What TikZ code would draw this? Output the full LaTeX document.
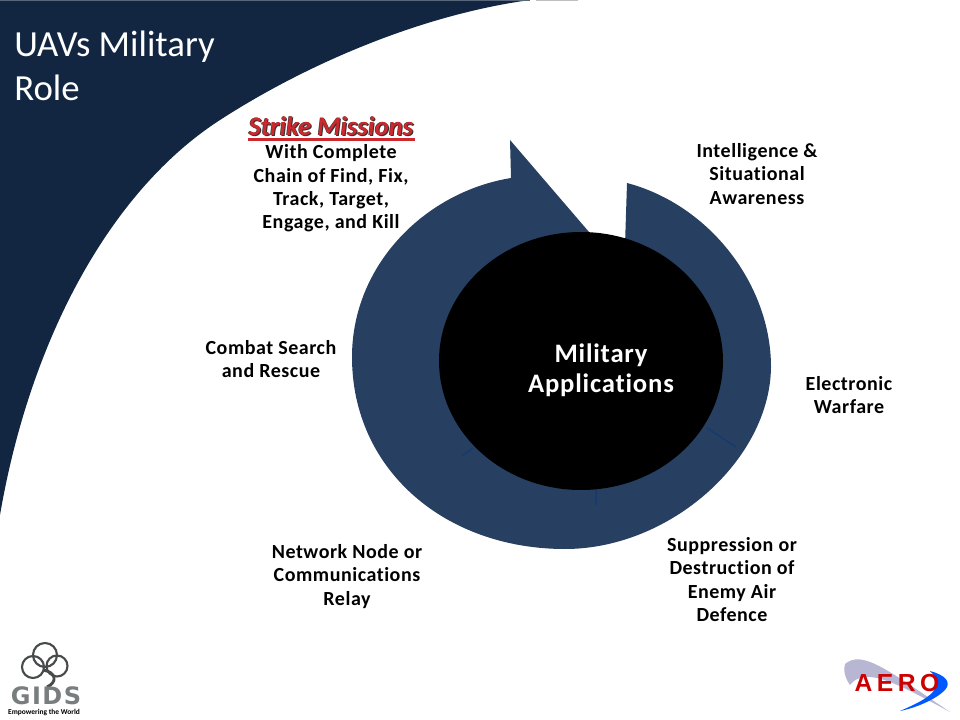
\documentclass[tikz,border=0pt]{standalone}
\usepackage{fontspec}
\setmainfont[Ligatures=NoCommon]{Carlito}
\newfontfamily\gidsfont{DejaVu Sans}
\newfontfamily\aerofont{Liberation Sans}
\usetikzlibrary{shapes.geometric, positioning, calc}
\definecolor{slidenavy}{RGB}{18,38,66}
\definecolor{ringblue}{RGB}{39,64,97}
\definecolor{ringline}{RGB}{24,58,110}
\definecolor{strikered}{RGB}{205,40,45}
\definecolor{logogray}{RGB}{120,125,125}
\tikzset{
  rolelabel/.style={align=center, font=\bfseries\fontsize{15}{17.5}\selectfont\addfontfeature{LetterSpace=2.7}, text=black, inner sep=0pt},
  ringsep/.style={draw=ringline, line width=1.3pt},
  strikefont/.style={inner sep=0pt, font=\bfseries\itshape\fontsize{20}{24}\selectfont},
}
\begin{document}
\begin{tikzpicture}[x=0.75pt,y=-0.75pt]
\useasboundingbox (0,0) rectangle (960,720);
% slide background
\fill[slidenavy] (0,0) -- (530,0) .. controls (420,15) and (305,65) .. (220,120)
  .. controls (110,191) and (30,340) .. (0,515) -- cycle;
\fill[slidenavy!70!white] (0,0) rectangle (530,1.5);
\fill[gray!50] (536,0) rectangle (578,1.5);
\node[text=white, align=left, anchor=north west, inner sep=0pt, font=\fontsize{27.6}{33}\selectfont] (title) at (14,31) {UAVs Military\\Role};
% ring with arrow head
\fill[ringblue] (627,183) .. controls (710,205) and (771,285) .. (771,367)
  .. controls (770,460) and (670,549) .. (565,549)
  .. controls (445,549) and (352,470) .. (352,357)
  .. controls (352,265) and (425,192) .. (511,178)
  -- (510,140) -- (589,232) -- (600,300) -- (625,245) -- cycle;
\draw[ringsep] (707,428) -- (736,447);
\draw[ringsep] (596,485) -- (596,505);
\draw[ringsep] (473,448) -- (462,456);
\node[ellipse, fill=black, minimum width=213pt, minimum height=193.5pt, inner sep=0pt] (hub) at (581,361) {};
\node[text=white, align=center, inner sep=0pt, font=\bfseries\fontsize{20}{22.5}\selectfont\addfontfeature{LetterSpace=3}] (hubtext) at (601,370) {Military\\Applications};
% labels
\node[strikefont, text=black!80!white] (strikeshadow) at (332,127.5) {Strike Missions};
\node[strikefont, text=black!80!white] (strikeshadowb) at (330.5,126) {Strike Missions};
\node[strikefont, text=strikered] (strike) at (331,126.5) {Strike Missions};
\fill[strikered] (248,138.5) rectangle (415,141.5);
\node[rolelabel] (strikebody) at (331,188.5) {With Complete\\Chain of Find, Fix,\\Track, Target,\\Engage, and Kill};
\node[rolelabel] (intel) at (757,174) {Intelligence \&\\Situational\\Awareness};
\node[rolelabel] (combat) at (271,359) {Combat Search\\and Rescue};
\node[rolelabel] (ew) at (849,395) {Electronic\\Warfare};
\node[rolelabel] (sead) at (732,579.5) {Suppression or\\Destruction of\\Enemy Air\\Defence};
\node[rolelabel] (relay) at (347,576.5) {Network Node or\\Communications\\Relay};
% GIDS logo
\draw[logogray!60!black, line width=1.6pt] (45,655) circle (12) (33,667) circle (11) (57,666) circle (10.5);
\draw[logogray!60!black, line width=2.2pt] (43,670) .. controls (56,672) and (58,682) .. (47,687);
\node[text=logogray, inner sep=0pt, font=\gidsfont\bfseries\fontsize{18}{18}\selectfont\addfontfeature{LetterSpace=6}] (gids) at (46,695.5) {GIDS};
\node[text=black, inner sep=0pt, font=\bfseries\fontsize{5.6}{6}\selectfont] (gidstag) at (44,713) {Empowering the World};
% AERO logo
\fill[blue!25!gray!45] (845,664) .. controls (862,650) and (885,668) .. (950,712)
  .. controls (900,685) and (865,665) .. (850,685) .. controls (845,678) and (843,670) .. cycle;
\fill[blue!65!cyan] (930,671) .. controls (945,675) and (952,682) .. (945,690)
  .. controls (935,700) and (915,708) .. (900,711)
  .. controls (920,702) and (950,690) .. cycle;
\node[text=red!80!black, inner sep=0pt, font=\aerofont\bfseries\fontsize{18.5}{18.5}\selectfont\addfontfeature{LetterSpace=18}] (aero) at (897,683) {AERO};
\end{tikzpicture}
\end{document}
